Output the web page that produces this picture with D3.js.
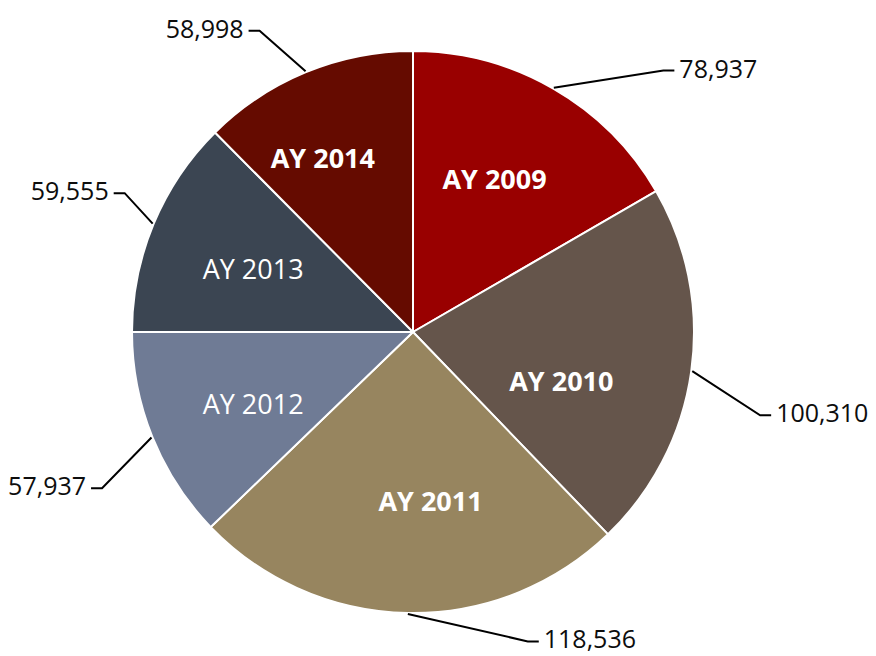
<!DOCTYPE html>
<html>
<head>
<meta charset="utf-8">
<script src="https://cdn.jsdelivr.net/npm/d3@7"></script>
<style>
  html, body { margin: 0; padding: 0; background: #fff; }
  svg { display: block; }
</style>
</head>
<body>
<svg id="chart" width="876" height="656"></svg>
<script>
const categories = ["AY 2009", "AY 2010", "AY 2011", "AY 2012", "AY 2013", "AY 2014"];
const values = [78937, 100310, 118536, 57937, 59555, 58998];
const valueLabels = ["78,937", "100,310", "118,536", "57,937", "59,555", "58,998"];
const colors = ["#990000", "#65554B", "#97855F", "#6F7B95", "#3B4552", "#650B00"];
const boldLabel = [true, true, true, false, false, true];

const svg = d3.select("#chart");
const W = 876, H = 656;
const cx = 413, cy = 332, R = 281;
const g = svg.append("g").attr("transform", `translate(${cx},${cy})`);

const data = categories.map((c, i) => ({ cat: c, value: values[i], label: valueLabels[i], color: colors[i], bold: boldLabel[i] }));

const pie = d3.pie().value(d => d.value).sort(null);
const arcs = pie(data);
const arc = d3.arc().innerRadius(0).outerRadius(R);

g.selectAll("path.slice").data(arcs).join("path")
  .attr("class", "slice")
  .attr("d", arc)
  .attr("fill", d => d.data.color)
  .attr("stroke", "#fff")
  .attr("stroke-width", 2)
  .attr("stroke-linejoin", "round");

// category labels inside slices (layout nudges: [angle shift deg, radius])
const inNudge = [[-2, 174], [10, 156], [-7, 169], [-2, 175], [-1, 172], [-5, 196]];
const polar = (ang, r) => [Math.sin(ang) * r, -Math.cos(ang) * r];
const deg = Math.PI / 180;

g.selectAll("text.cat").data(arcs).join("text")
  .attr("class", "cat")
  .each(function(d, i) {
    const mid = (d.startAngle + d.endAngle) / 2 + inNudge[i][0] * deg;
    const [x, y] = polar(mid, inNudge[i][1]);
    d3.select(this).attr("x", x).attr("y", y);
  })
  .attr("text-anchor", "middle")
  .attr("dominant-baseline", "central")
  .attr("font-family", "'Open Sans', sans-serif")
  .attr("font-size", 27)
  .attr("font-weight", d => d.data.bold ? 700 : 400)
  .attr("fill", "#fff")
  .text(d => d.data.cat);

// value labels with leader lines (elbow: [angle shift deg, radius])
const outNudge = [[13.8, 362], [5.5, 357], [-21.4, 330], [-4.7, 348], [3.1, 320], [-4.6, 338]];
const leaders = g.append("g");
arcs.forEach((d, i) => {
  const mid = (d.startAngle + d.endAngle) / 2;
  const p0 = polar(mid, R + 1);
  const p1 = polar(mid + outNudge[i][0] * deg, outNudge[i][1]);
  const right = p1[0] > 0;
  const p2 = [p1[0] + (right ? 11 : -11), p1[1]];
  leaders.append("polyline")
    .attr("points", [p0, p1, p2].map(p => p.join(",")).join(" "))
    .attr("fill", "none")
    .attr("stroke", "#000")
    .attr("stroke-width", 2);
  leaders.append("text")
    .attr("x", p2[0] + (right ? 5 : -5))
    .attr("y", p2[1] - 3)
    .attr("text-anchor", right ? "start" : "end")
    .attr("dominant-baseline", "central")
    .attr("font-family", "'Open Sans', sans-serif")
    .attr("font-size", 25)
    .attr("fill", "#0d0d0d")
    .text(d.data.label);
});
</script>
</body>
</html>
